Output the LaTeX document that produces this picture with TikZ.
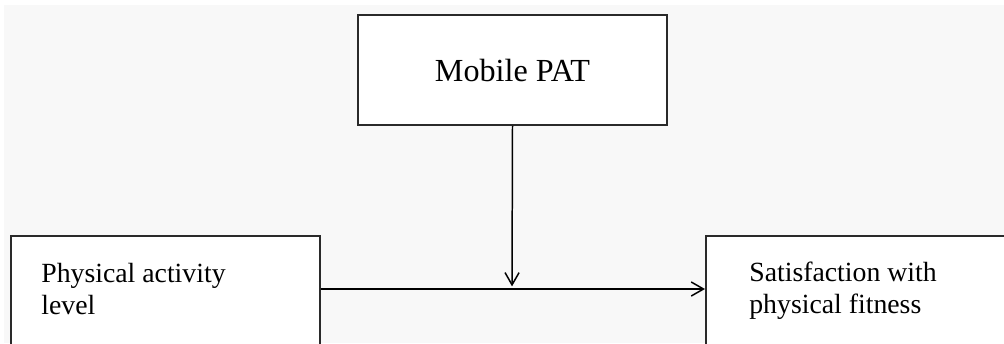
\documentclass[tikz,border=0pt]{standalone}
\usepackage{fontspec}
\setmainfont{Liberation Serif}
\usetikzlibrary{positioning,arrows.meta}

\definecolor{pagegray}{HTML}{F8F8F8}
\definecolor{edgegray}{HTML}{2A2A2A}
\tikzset{
  varbox/.style={draw=edgegray, line width=1.1pt, fill=white, inner sep=0pt},
  varlbl/.style={inner sep=0pt, align=left, font=\fontsize{15.8}{18.2}\selectfont},
  link/.style={draw=black, line width=0.85pt, -{Straight Barb[length=7pt,width=8pt]}}
}

\begin{document}
\begin{tikzpicture}[x=0.02cm, y=-0.02cm]
    \clip (0,0) rectangle (1004,343);
    \fill[white] (0,0) rectangle (1004,343);
    \fill[pagegray] (4,5) rectangle (1004,343);
    % moderator on top
    \node[varbox, minimum width=6.18cm, minimum height=2.2cm,
      font=\fontsize{18.3}{21}\selectfont] (mob) at (512.5,70) {Mobile PAT};
    % independent and dependent variables
    \node[varbox, anchor=north west, minimum width=6.18cm, minimum height=3cm] (pal) at (10,235) {};
    \node[varbox, anchor=north west, minimum width=7.5cm, minimum height=3cm] (sat) at (705,235) {};
    \node[varlbl, anchor=north west] (paltxt) at (41,263) {Physical activity\\level};
    \node[varlbl, anchor=north west] (sattxt) at (749,262) {Satisfaction with\\physical fitness};
    \coordinate (junc) at (512,289);
    \draw[link] (pal.east |- junc) -- (sat.west |- junc);
    \draw[link, shorten >=1.5pt] (mob.south) -- (junc);
  \end{tikzpicture}
\end{document}
